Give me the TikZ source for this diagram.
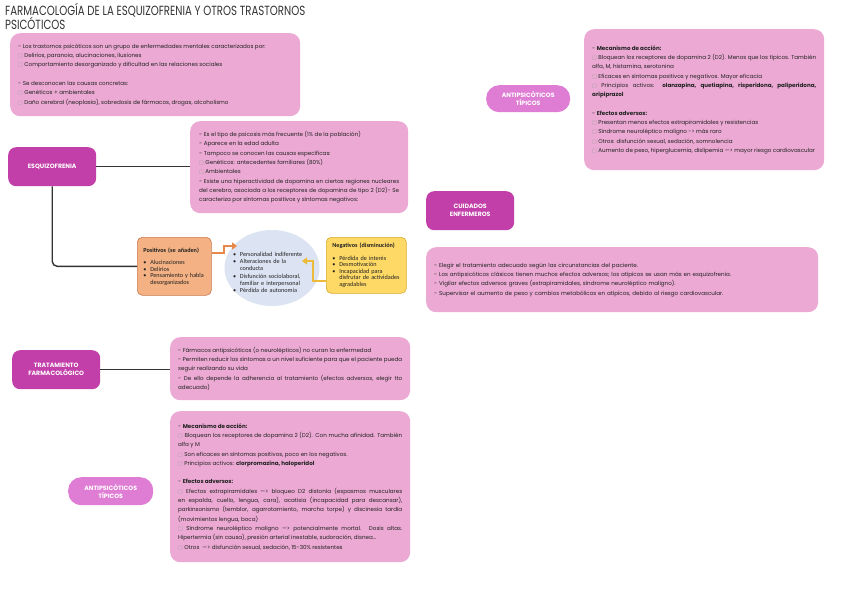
\documentclass[tikz,border=0pt]{standalone}
\usepackage{fontspec}
\setmainfont{Poppins}
\newfontfamily\calib{Carlito}
\newfontfamily\dejav{DejaVu Sans}
\usetikzlibrary{arrows.meta,shapes.geometric,calc}
\hyphenpenalty=10000
\exhyphenpenalty=10000
\emergencystretch=12pt
\definecolor{boxpink}{HTML}{EBA9D3}
\definecolor{magbox}{HTML}{C23EA8}
\definecolor{lightmag}{HTML}{DF7DD4}
\definecolor{txtcol}{HTML}{222222}
\definecolor{linecol}{HTML}{333333}
\definecolor{posfill}{HTML}{F4B183}
\definecolor{posdraw}{HTML}{C9784E}
\definecolor{ellfill}{HTML}{DCE3F2}
\definecolor{negfill}{HTML}{FFD966}
\definecolor{negdraw}{HTML}{D9A92A}
\definecolor{oarr}{HTML}{E8874A}
\definecolor{yarr}{HTML}{EDBB3C}
\newcommand{\emptybx}{{\dejav\fontsize{5}{5}\selectfont\color{gray!75}□}\ }
\newcommand{\blt}[1]{\par\noindent\hangindent=7pt\hangafter=1\makebox[7pt][l]{•}#1\par}
\newcommand{\nohyph}{\hyphenpenalty=10000\relax}
\tikzset{
  txtbox/.style={fill=boxpink, rounded corners=10pt, inner xsep=8pt, inner ysep=4pt,
    align=justify, font=\fontsize{5.6}{9.3}\selectfont, text=txtcol, anchor=north west},
  magnode/.style={fill=magbox, rounded corners=8pt, text=white, align=center,
    font=\bfseries\fontsize{6.2}{8}\selectfont, anchor=north west, inner sep=0pt},
  lmagnode/.style={fill=lightmag, rounded corners=13pt, text=white, align=center,
    font=\bfseries\fontsize{6.2}{8}\selectfont, anchor=north west, inner sep=0pt},
  conn/.style={draw=linecol, line width=1.4pt},
  symbox/.style={rounded corners=5pt, line width=0.6pt, anchor=north west, inner xsep=6pt,
    align=left, font=\calib\fontsize{6.2}{6.5}\selectfont, text=txtcol},
}
\begin{document}
\begin{tikzpicture}[x=1pt,y=-1pt]
\useasboundingbox[fill=white] (0,0) rectangle (848,599);

\node[anchor=north west, align=left, inner sep=0pt, text=linecol,
  font=\fontsize{10.2}{14.5}\selectfont] (title) at (5,3)
  {\scalebox{1}[1.3]{FARMACOLOGÍA DE LA ESQUIZOFRENIA Y OTROS TRASTORNOS}\\
   \scalebox{1}[1.3]{PSICÓTICOS}};

% Box 1
\node[txtbox, text width=274pt, minimum width=290pt, minimum height=83pt] (intro) at (10,33)
{\nohyph- Los trastornos psicóticos son un grupo de enfermedades mentales caracterizados por:\\
\emptybx Delirios, paranoia, alucinaciones, ilusiones\\
\emptybx Comportamiento desorganizado y dificultad en las relaciones sociales\\[9.3pt]
- Se desconocen las causas concretas:\\
\emptybx Genéticos + ambientales\\
\emptybx Daño cerebral (neoplasia), sobredosis de fármacos, drogas, alcoholismo};

% Esquizofrenia
\node[magnode, minimum width=88pt, minimum height=39pt] (esq) at (8,147) {ESQUIZOFRENIA};

\node[txtbox, inner xsep=9pt, text width=200pt, minimum width=218pt, minimum height=92pt] (esqtxt) at (190,121)
{\nohyph- Es el tipo de psicosis más frecuente (1\% de la población)\\
- Aparece en la edad adulta\\
- Tampoco se conocen las causas específicas:\\
\emptybx Genéticos: antecedentes familiares (80\%)\\
\emptybx Ambientales\\
- Existe una hiperactividad de dopamina en ciertas regiones nucleares del cerebro, asociada a los receptores de dopamina de tipo 2 (D2)- Se caracteriza por síntomas positivos y síntomas negativos:};

% Symptoms
\node[symbox, fill=posfill, draw=posdraw, text width=62pt, minimum width=73pt, minimum height=58pt] (pos) at (137,237)
{\nohyph\textbf{Positivos (se añaden)}\par\vspace{6pt}
\blt{Alucinaciones}\blt{Delirios}\blt{Pensamiento y habla desorganizados}};

\node[ellipse, fill=ellfill, minimum width=95pt, minimum height=76pt, inner sep=0pt] (ell) at (272,268) {};
\node[align=left, text width=70pt, inner sep=0pt, text=txtcol, font=\calib\fontsize{6.2}{7.2}\selectfont] (elltxt) at (268,271)
{\nohyph\blt{Personalidad indiferente}\blt{Alteraciones de la conducta}\blt{Disfunción sociolaboral, familiar e interpersonal}\blt{Pérdida de autonomía}};

\node[symbox, fill=negfill, draw=negdraw, text width=68pt, minimum width=79pt, minimum height=56pt] (neg) at (326,237)
{\nohyph\textbf{Negativos (disminución)}\par\vspace{6pt}
\blt{Pérdida de interés}\blt{Desmotivación}\blt{Incapacidad para disfrutar de actividades agradables}};

\coordinate (ellin) at (237,246);
\coordinate (ellin2) at (302,261);
\draw[oarr, line width=1.8pt, -{Triangle[width=7pt,length=5pt]}] ([yshift=13pt]pos.east) -- ++(12,0) |- (ellin);
\draw[yarr, line width=1.8pt, -{Triangle[width=7pt,length=5pt]}] ([yshift=-16pt]neg.west) -- ++(-13,0) |- (ellin2);

\draw[conn] (esq.east) -- (esqtxt.west |- esq.east);
\draw[conn, rounded corners=5pt] (esq.south) |- (pos.west);

% Tratamiento
\node[magnode, minimum width=88pt, minimum height=39pt] (trat) at (12,350) {TRATAMIENTO\\FARMACOLÓGICO};

\node[txtbox, text width=224pt, minimum width=240pt, minimum height=63pt] (trattxt) at (170,337)
{\nohyph- Fármacos antipsicóticos (o neurolépticos) no curan la enfermedad\\
- Permiten reducir los síntomas a un nivel suficiente para que el paciente pueda seguir realizando su vida\\
- De ello depende la adherencia al tratamiento (efectos adversos, elegir tto adecuado)};

\draw[conn] (trat.east) -- (trattxt.west |- trat.east);

\node[txtbox, text width=224pt, minimum width=240pt, minimum height=151pt] (tiptxt) at (170,411)
{\nohyph- \textbf{Mecanismo de acción:}\\
\emptybx Bloquean los receptores de dopamina 2 (D2). Con mucha afinidad. También alfa y M\\
\emptybx Son eficaces en síntomas positivos, poco en los negativos.\\
\emptybx Principios activos: \textbf{clorpromazina, haloperidol}\\[9.3pt]
- \textbf{Efectos adversos:}\\
\emptybx Efectos extrapiramidales —> bloqueo D2 distonía (espasmos musculares en espalda, cuello, lengua, cara), acatisia (incapacidad para descansar), parkinsonismo (temblor, agarrotamiento, marcha torpe) y discinesia tardía (movimientos lengua, boca)\\
\emptybx Síndrome neuroléptico maligno —> potencialmente mortal. Dosis altas. Hipertermia (sin causa), presión arterial inestable, sudoración, disnea…\\
\emptybx Otros \ —> disfunción sexual, sedación, 15-30\% resistentes};

\node[lmagnode, minimum width=85pt, minimum height=28pt] (tip) at (68,477) {ANTIPSICÓTICOS\\TÍPICOS};

% Right side
\node[lmagnode, minimum width=84pt, minimum height=27pt] (atip) at (486,85) {ANTIPSICÓTICOS\\TÍPICOS};

\node[txtbox, text width=224pt, minimum width=240pt, minimum height=141pt] (atiptxt) at (584,29)
{\nohyph- \textbf{Mecanismo de acción:}\\
\emptybx Bloquean los receptores de dopamina 2 (D2). Menos que los típicos. También alfa, M, histamina, serotonina\\
\emptybx Eficaces en síntomas positivos y negativos. Mayor eficacia\\
\emptybx Principios activos: \textbf{olanzapina, quetiapina, risperidona, paliperidona, aripiprazol}\\[9.3pt]
- \textbf{Efectos adversos:}\\
\emptybx Presentan menos efectos extrapiramidales y resistencias\\
\emptybx Síndrome neuroléptico maligno -> más raro\\
\emptybx Otros: disfunción sexual, sedación, somnolencia\\
\emptybx Aumento de peso, hiperglucemia, dislipemia —> mayor riesgo cardiovascular};

\node[magnode, minimum width=88pt, minimum height=39pt] (cuid) at (426,191) {CUIDADOS\\ENFERMEROS};

\node[txtbox, text width=376pt, minimum width=392pt, minimum height=65pt, align=left] (cuidtxt) at (426,247)
{\nohyph- Elegir el tratamiento adecuado según las circunstancias del paciente.\\
- Los antipsicóticos clásicos tienen muchos efectos adversos; los atípicos se usan más en esquizofrenia.\\
- Vigilar efectos adversos graves (extrapiramidales, síndrome neuroléptico maligno).\\
- Supervisar el aumento de peso y cambios metabólicos en atípicos, debido al riesgo cardiovascular.};
\end{tikzpicture}
\end{document}
